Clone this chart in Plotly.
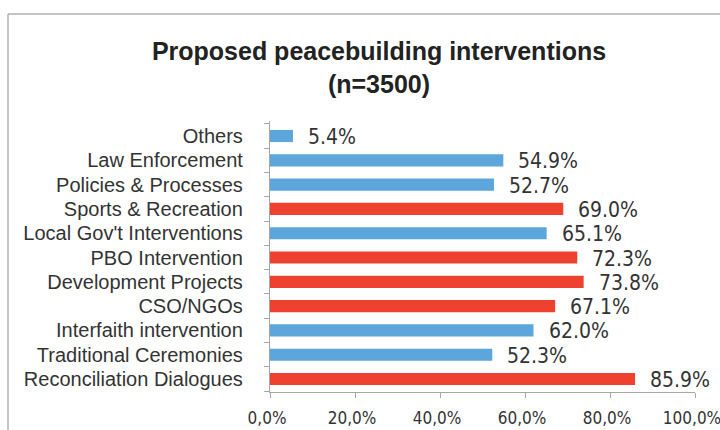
import plotly.graph_objects as go

# Survey results, listed top to bottom as shown on the chart
categories = [
    "Others",
    "Law Enforcement",
    "Policies & Processes",
    "Sports & Recreation",
    "Local Gov't Interventions",
    "PBO Intervention",
    "Development Projects",
    "CSO/NGOs",
    "Interfaith intervention",
    "Traditional Ceremonies",
    "Reconciliation Dialogues",
]
shares = [5.4, 54.9, 52.7, 69.0, 65.1, 72.3, 73.8, 67.1, 62.0, 52.3, 85.9]
highlight = [False, False, False, True, False, True, True, True, False, False, True]

tick_values = [0, 20, 40, 60, 80, 100]
tick_labels = ["0,0%", "20,0%", "40,0%", "60,0%", "80,0%", "100,0%"]

BLUE = "#5DA6DB"
RED = "#EF412F"
TEXT = "#333333"
FRAME = "#B0B0B0"
NARROW = "DejaVu Sans Condensed, Liberation Sans Narrow, Arial Narrow, sans-serif"

W, H = 720, 430
ML, MR, MT, MB = 270, 25, 121, 38
PW, PH = W - ML - MR, H - MT - MB

colors = [RED if h else BLUE for h in highlight]

fig = go.Figure(
    go.Bar(
        x=shares,
        y=categories,
        orientation="h",
        marker=dict(color=colors, line=dict(width=0)),
        width=0.5,
        hoverinfo="x+y",
    )
)

# value labels to the right of each bar
for cat, v in zip(categories, shares):
    fig.add_annotation(
        x=v, y=cat, xref="x", yref="y",
        text=f"{v:.1f}%", showarrow=False,
        xanchor="left", yanchor="middle", xshift=13, yshift=-1,
        font=dict(family=NARROW, size=21, color=TEXT),
    )


def px_to_paper_x(px):
    return (px - ML) / PW


def px_to_paper_y(py):
    return (H - MB - py) / PH


# outer frame (top and left edges)
fig.add_shape(type="line", xref="paper", yref="paper",
              x0=px_to_paper_x(8), x1=px_to_paper_x(W + 5),
              y0=px_to_paper_y(14), y1=px_to_paper_y(14),
              line=dict(color=FRAME, width=1.5))
fig.add_shape(type="line", xref="paper", yref="paper",
              x0=px_to_paper_x(8), x1=px_to_paper_x(8),
              y0=px_to_paper_y(14), y1=px_to_paper_y(H + 5),
              line=dict(color=FRAME, width=1.5))

fig.update_layout(
    width=W, height=H,
    margin=dict(l=ML, r=MR, t=MT, b=MB, pad=0, autoexpand=False),
    paper_bgcolor="white", plot_bgcolor="white",
    showlegend=False,
    title=dict(
        text="<b>Proposed peacebuilding interventions</b><br><b>(n=3500)</b>",
        x=379 / W, xanchor="center", xref="container",
        y=1 - 60 / H, yanchor="top", yref="container",
        font=dict(family="Liberation Sans", size=25, color="#222222"),
    ),
    xaxis=dict(
        range=[0, 100],
        tickvals=tick_values, ticktext=tick_labels,
        showgrid=False, zeroline=False,
        showline=True, linecolor="#A6A6A6", linewidth=1.3,
        ticks="outside", ticklen=5, tickcolor="#A6A6A6", tickwidth=1.3,
        tickfont=dict(family=NARROW, size=17, color=TEXT),
        ticklabelstandoff=5,
        ticklabelshift=-3,
        ticklabeloverflow="allow",
        automargin=False,
        fixedrange=True,
    ),
    yaxis=dict(
        autorange="reversed",
        tickmode="array", tickvals=categories, ticktext=categories,
        showgrid=False, zeroline=False,
        showline=True, linecolor="#A6A6A6", linewidth=1.3,
        ticks="outside", ticklen=5, tickcolor="#A6A6A6", tickwidth=1.3,
        tickson="boundaries",
        tickfont=dict(family="Liberation Sans", size=20, color=TEXT),
        ticklabelstandoff=22,
        automargin=False,
        fixedrange=True,
    ),
)

fig.write_html("out.html")
